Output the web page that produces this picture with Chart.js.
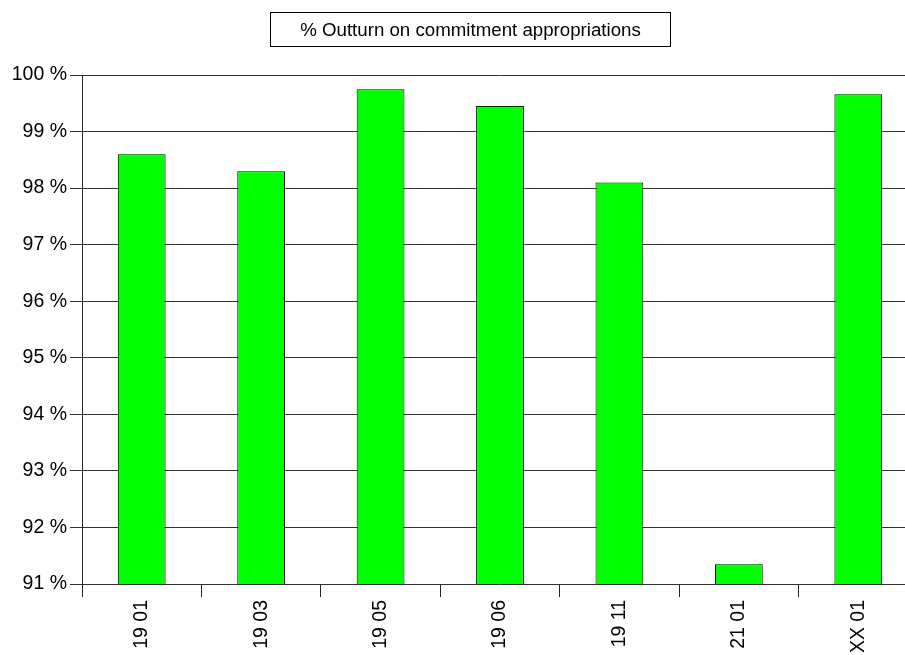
<!DOCTYPE html>
<html>
<head>
<meta charset="utf-8">
<script src="https://cdn.jsdelivr.net/npm/chart.js@4"></script>
<style>
  body { margin: 0; overflow: hidden; background: #fff; font-family: "Liberation Sans", Arial, sans-serif; }
  #wrap { position: relative; width: 905px; height: 655px; overflow: hidden; }
  #title {
    position: absolute; left: 270px; top: 12px; width: 399px; height: 33px;
    border: 1px solid #000; text-align: center; line-height: 34px; font-size: 18.7px; color: #000;
  }
  canvas { position: absolute; left: 0; top: 0; }
</style>
</head>
<body>
<div id="wrap">
  <canvas id="myChart" width="918" height="655"></canvas>
  <div id="title">% Outturn on commitment appropriations</div>
</div>
<script>
let categories = ['19 01', '19 03', '19 05', '19 06', '19 11', '21 01', 'XX 01']
let outturn = [98.6, 98.3, 99.75, 99.45, 98.1, 91.35, 99.66]
let yMin = 91
let yMax = 100

let font = { family: '"Liberation Sans", Arial, sans-serif', size: 19.5 }

let ctx = document.getElementById('myChart').getContext('2d')
let chart = new Chart(ctx, {
    type: 'bar',
    data: {
        labels: categories,
        datasets: [{
            label: '% Outturn on commitment appropriations',
            backgroundColor: '#00ff00',
            borderColor: '#000',
            borderWidth: 1,
            data: outturn,
            barPercentage: 0.4,
            categoryPercentage: 1
        }]
    },
    options: {
        responsive: false,
        animation: false,
        layout: { padding: { top: 75, right: 0, left: 0, bottom: 0 } },
        plugins: { legend: { display: false }, tooltip: { enabled: false } },
        scales: {
            x: {
                afterFit: s => { s.height = 71 },
                grid: { offset: true, drawOnChartArea: false, drawTicks: true, tickLength: 13, color: '#222' },
                border: { display: false },
                ticks: { minRotation: 90, maxRotation: 90, padding: 3, color: '#000', font: font }
            },
            y: {
                min: yMin,
                max: yMax,
                afterFit: s => { s.width = 82 },
                grid: { color: '#333', tickLength: 12, tickColor: '#333' },
                border: { color: '#222' },
                ticks: { stepSize: 1, padding: 3, color: '#000', font: font, callback: v => v + ' %' }
            }
        }
    }
})
</script>
</body>
</html>
